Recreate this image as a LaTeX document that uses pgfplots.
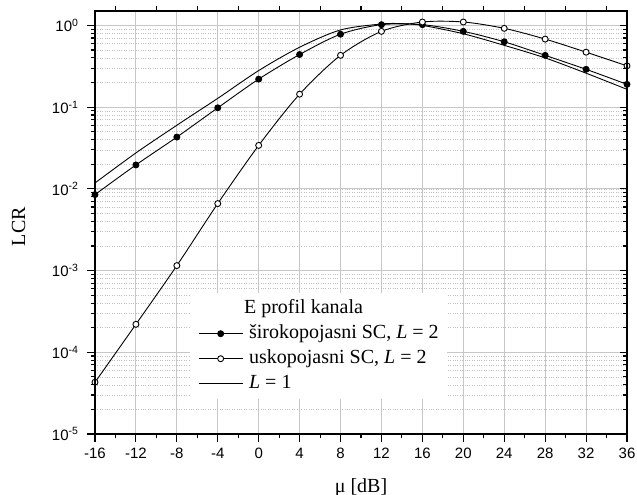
\documentclass[border=0pt]{standalone}
\usepackage{fontspec}
\setmainfont{Liberation Serif}
\newfontfamily\arialfont{Liberation Sans}
\usepackage{pgfplots}
\pgfplotsset{compat=1.18}
\pgfplotsset{myaxisbase/.style={at={(0pt,0pt)},anchor=south west,scale only axis,
  width=532pt,height=423pt,xmin=-16,xmax=36,ymin=1e-5,ymax=1.5,
  axis line style={line width=1.3pt},
  tick style={line width=1.1pt,color=black}}}
\begin{document}
\begin{tikzpicture}
\useasboundingbox (-95pt,-61pt) rectangle (542pt,434pt);
\begin{axis}[myaxisbase,ymode=log,log basis y=10,
  xtick={-16,-12,...,36}, minor x tick num=1,
  xticklabels={-16,-12,-8,-4,0,4,8,12,16,20,24,28,32,36},
  yticklabel={10\textsuperscript{\pgfmathparse{int(round(\tick))}\pgfmathresult}},
  xtick pos=left, ytick pos=left,
  tick align=outside,
  major tick length=8pt, minor tick length=4pt,
  xmajorgrids=true, ymajorgrids=true, yminorgrids=true,
  major grid style={line width=0.9pt,color=black!22},
  minor grid style={dotted,line width=0.6pt,color=black!25},
  ticklabel style={font=\arialfont\fontsize{15}{17}\selectfont},
  xticklabel style={yshift=-3pt},
  yticklabel style={xshift=-5pt},
  xlabel={μ [dB]}, ylabel={LCR},
  label style={font=\fontsize{20}{24}\selectfont},
  xlabel style={at={(axis description cs:0.5,0)},anchor=base,yshift=-58pt},
  ylabel style={at={(axis description cs:-0.1438,0.49)},anchor=center},
  legend style={at={(rel axis cs:0.1786,0.3333)},anchor=north west,draw=none,fill=white,
    font=\fontsize{20}{24}\selectfont,inner xsep=8pt,inner ysep=6pt,
    nodes={inner sep=0pt,text height=14pt,text depth=5pt},
    row sep=6pt,column sep=6pt},
  legend cell align=left,
  legend image code/.code={\draw[mark repeat=2,mark phase=2,#1] plot coordinates {(0pt,0pt) (22pt,0pt) (44pt,0pt)};},
]
\addlegendimage{empty legend}
\addlegendentry{\hspace*{-5pt}E profil kanala}
\addplot[black,line width=0.9pt,smooth,mark=*,mark size=3pt,mark options={fill=black,solid}] coordinates {
(-16,0.0085) (-12,0.0196) (-8,0.043) (-4,0.098) (0,0.22) (4,0.44) (8,0.78) (12,1.02)
(16,1.02) (20,0.845) (24,0.63) (28,0.43) (32,0.29) (36,0.19)};
\addlegendentry{širokopojasni SC, \textit{L} = 2}
\addplot[black,line width=0.9pt,smooth,mark=*,mark size=3pt,mark options={fill=white,solid}] coordinates {
(-16,4.3e-5) (-12,2.2e-4) (-8,1.15e-3) (-4,6.6e-3) (0,0.034) (4,0.144) (8,0.43) (12,0.845)
(16,1.1) (20,1.1) (24,0.92) (28,0.68) (32,0.47) (36,0.32)};
\addlegendentry{uskopojasni SC, \textit{L} = 2}
\addplot[black,line width=0.9pt,smooth] coordinates {
(-16,0.0118) (-12,0.0275) (-8,0.06) (-4,0.128) (0,0.28) (4,0.54) (8,0.88) (12,1.04)
(14,1.05) (16,1.0) (20,0.79) (24,0.57) (28,0.40) (32,0.26) (36,0.165)};
\addlegendentry{\textit{L} = 1}
\end{axis}
\begin{axis}[myaxisbase,ymode=log,
  xtick={-14,-10,...,34}, xticklabels={}, xtick pos=right, minor x tick num=0,
  ymajorticks=false, yminorticks=false,
  tick align=outside, major tick length=5pt]
\end{axis}
\begin{axis}[myaxisbase,ymode=log,
  xmajorticks=false, xminorticks=false,
  ytick pos=right, yticklabel=\empty,
  tick align=inside, major tick length=7pt, minor tick length=4pt]
\end{axis}
\end{tikzpicture}
\end{document}
